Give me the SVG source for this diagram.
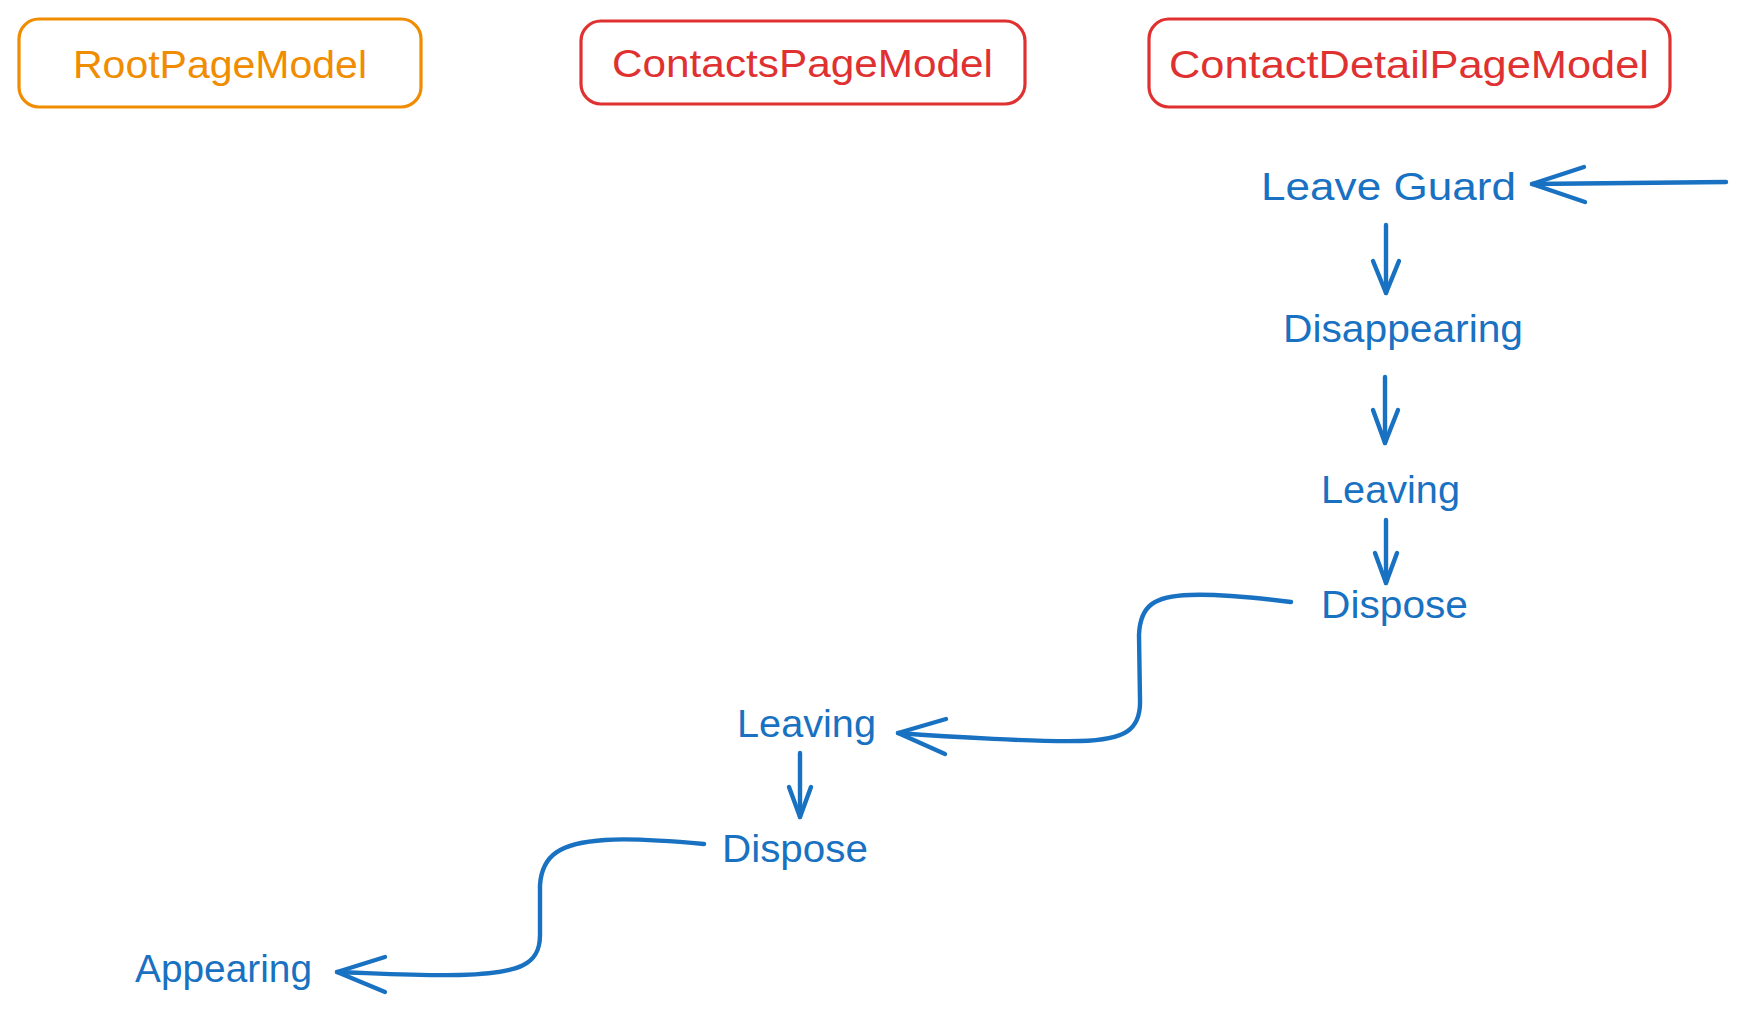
<svg xmlns="http://www.w3.org/2000/svg" width="1744" height="1012" viewBox="0 0 1744 1012">
<style>
.bg{fill:#ffffff}
.box{fill:none;stroke-width:3.2}
.orange{stroke:#f08c00}
.red{stroke:#e03131}
.t{font-family:"Liberation Sans","Open Sans",sans-serif;font-size:38px}
.to{fill:#f08c00}
.tr{fill:#e03131}
.tb{fill:#1971c2}
.c{fill:none;stroke:#1971c2;stroke-width:4.4;stroke-linecap:round;stroke-linejoin:round}
</style>
<rect class="bg" x="0" y="0" width="1744" height="1012"/>
<g id="node-root">
<rect class="box orange" x="19" y="19" width="402" height="88" rx="20"/>
<text class="t to" x="73" y="78" textLength="294" lengthAdjust="spacingAndGlyphs">RootPageModel</text>
</g>
<g id="node-contacts">
<rect class="box red" x="581" y="21" width="444" height="83" rx="20"/>
<text class="t tr" x="612" y="77" textLength="381" lengthAdjust="spacingAndGlyphs">ContactsPageModel</text>
</g>
<g id="node-detail">
<rect class="box red" x="1149" y="19" width="521" height="88" rx="20"/>
<text class="t tr" x="1169" y="78" textLength="480" lengthAdjust="spacingAndGlyphs">ContactDetailPageModel</text>
</g>
<g id="node-leave-guard"><text class="t tb" x="1261" y="200" textLength="255" lengthAdjust="spacingAndGlyphs">Leave Guard</text></g>
<g id="node-disappearing"><text class="t tb" x="1283" y="342" textLength="240" lengthAdjust="spacingAndGlyphs">Disappearing</text></g>
<g id="node-leaving-1"><text class="t tb" x="1321" y="503" textLength="139" lengthAdjust="spacingAndGlyphs">Leaving</text></g>
<g id="node-dispose-1"><text class="t tb" x="1321" y="618" textLength="147" lengthAdjust="spacingAndGlyphs">Dispose</text></g>
<g id="node-leaving-2"><text class="t tb" x="737" y="737" textLength="139" lengthAdjust="spacingAndGlyphs">Leaving</text></g>
<g id="node-dispose-2"><text class="t tb" x="722" y="862" textLength="146" lengthAdjust="spacingAndGlyphs">Dispose</text></g>
<g id="node-appearing"><text class="t tb" x="135" y="982" textLength="177" lengthAdjust="spacingAndGlyphs">Appearing</text></g>
<g id="connectors">
<path class="c" d="M1726,182 L1532,184"/>
<path class="c" d="M1584,167 L1532,184 L1585,202"/>
<path class="c" d="M1386,225 L1386,293"/>
<path class="c" d="M1373,261 L1386,293 L1399,261"/>
<path class="c" d="M1385,377 L1385,443"/>
<path class="c" d="M1373,410 L1385,443 L1398,410"/>
<path class="c" d="M1386,520 L1386,583"/>
<path class="c" d="M1375,553 L1386,583 L1397,553"/>
<path class="c" d="M1291,602 C1250,597 1215,594 1190,595 C1155,596 1140,605 1139,635 L1140,700 C1141,730 1125,740 1080,741 C1040,742 950,737 898,733"/>
<path class="c" d="M946,719 L898,733 L945,754"/>
<path class="c" d="M800,753 L800,817"/>
<path class="c" d="M789,787 L800,817 L811,787"/>
<path class="c" d="M704,844 C660,840 630,838 605,840 C560,843 542,855 540,885 L540,935 C540,965 520,973 460,975 C420,976 370,973 337,972"/>
<path class="c" d="M385,957 L337,972 L385,992"/>
</g>
</svg>
